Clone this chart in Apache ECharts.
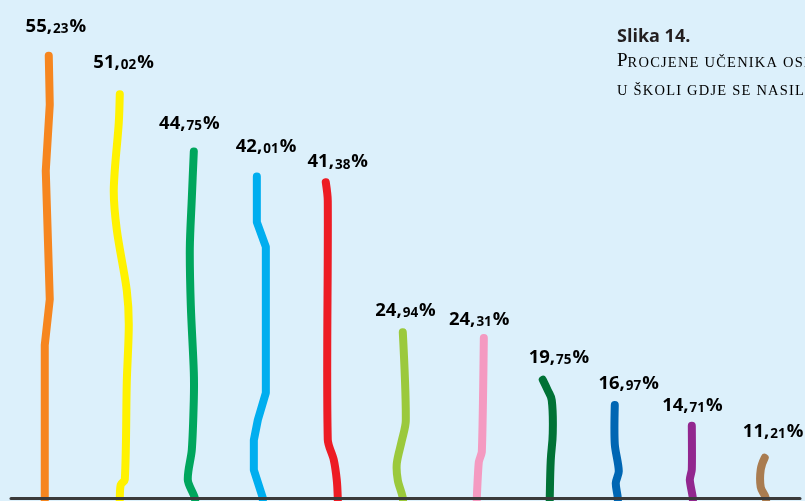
<!DOCTYPE html>
<html><head><meta charset="utf-8">
<script src="https://cdn.jsdelivr.net/npm/echarts@6/dist/echarts.min.js"></script>
<style>html,body{margin:0;padding:0;background:#dcf0fb;}#c{width:805px;height:501px;}</style>
</head><body><div id="c"></div>
<script>
// ---- data ----
const categories = ['1','2','3','4','5','6','7','8','9','10','11'];
const values = [55.23, 51.02, 44.75, 42.01, 41.38, 24.94, 24.31, 19.75, 16.97, 14.71, 11.21];
const titleText = 'Slika 14.';
const subtitleLine1 = 'Procjene učenika osnovnih škola o mjestima';
const subtitleLine2 = 'u školi gdje se nasilje najčešće događa';

// ---- styles ----
const Y_MIN = 6.8, Y_MAX = 61.0;
const colors = ['#f6861f','#fff200','#00a65d','#00aeef','#ed1c24','#9bc93c','#f49ac1','#007236','#0066b3','#92278f','#a97c50'];
// hand-drawn wiggle profile: [fraction of height from baseline, x offset px], top to bottom
const wiggles = [
  [[1,1.9],[0.889,2.9],[0.74,-1.1],[0.449,2.9],[0.346,-2.1],[0,-2.1]],
  [[1,1.2],[0.93,0.2],[0.765,-4.8],[0.664,-1.8],[0.514,8.2],[0.429,10.2],[0.288,8.2],[0.045,6.2],[0.033,2.2],[0,1.2]],
  [[1,3.5],[0.865,1.5],[0.72,-0.5],[0.555,0.5],[0.363,3.5],[0.284,3.5],[0.139,1.5],[0.052,-2.5],[0,4.5]],
  [[1,-5.2],[0.858,-5.2],[0.781,3.8],[0.327,3.8],[0.243,-4.2],[0.18,-8.2],[0.087,-8.2],[0,0.8]],
  [[1,-8],[0.941,-6],[0.185,-6],[0.121,0],[0.057,3],[0,4]],
  [[1,-2.7],[0.466,0.3],[0.346,-3.7],[0.209,-8.7],[0.107,-7.7],[0,-2.7]],
  [[1,6.6],[0.289,4.6],[0.225,1.6],[0,-0.4]],
  [[1,-6.2],[0.911,-1.2],[0.827,2.8],[0.549,3.8],[0.32,1.8],[0,0.8]],
  [[1,-5.9],[0.58,-5.9],[0.29,-1.9],[0.16,-4.9],[0,-2.9]],
  [[1,-0.6],[0.392,-0.6],[0.252,-2.6],[0,0.4]],
  [[1,0.6],[0.709,-3.4],[0.27,-3.4],[0,1.6]]
];
const smoothness = [0, 0.3, 0.3, 0, 0.3, 0.3, 0.2, 0.4, 0.3, 0.2, 0.4];
const labelOffsets = [[9,-30.5],[5,-32.5],[-1,-29.5],[4,-31.5],[4,-21.5],[0,-23.5],[2,-19.5],[10,-23.5],[8,-22.5],[0,-21.5],[9,-27.5]];

const HS = '\u200A';
function sp(s){ return s.split('').join(HS); }
function fmt(v){
  const s = v.toFixed(2).split('.');
  return '{a|' + s[0] + ',}{b|' + s[1] + '}{a|%}';
}
function caps(s){
  const up = s.toUpperCase();
  return '{big|' + up[0] + '}{sm|' + sp(up.slice(1)) + '}';
}
function smallcaps(s){
  return '{sm|' + sp(s.toUpperCase()) + '}';
}

const chart = echarts.init(document.getElementById('c'), null, {renderer:'canvas'});
const rich = {
  a: {fontFamily:'Open Sans', fontWeight:'bold', fontSize:18.5, color:'#2b2a29', verticalAlign:'bottom', lineHeight:22},
  b: {fontFamily:'Open Sans', fontWeight:'bold', fontSize:13.5, color:'#2b2a29', verticalAlign:'bottom', lineHeight:18, padding:[0,1,0,1]}
};
const pink = '#e5238b';
chart.setOption({
  backgroundColor:'#dcf0fb',
  animation:false,
  grid:{left:11, right:5, top:3, bottom:3},
  xAxis:{type:'category', data:categories, z:10,
    axisLine:{show:true, lineStyle:{color:'#3a3a3a', width:3}},
    axisTick:{show:false}, axisLabel:{show:false}, splitLine:{show:false}},
  yAxis:{type:'value', min:Y_MIN, max:Y_MAX, show:false, splitLine:{show:false}},
  graphic:[
    {type:'text', x:617, y:37, style:{text:titleText, font:'bold 18px "Open Sans"', fill:'#231f20', verticalAlign:'middle'}},
    {type:'text', x:617, y:61, style:{text:caps(subtitleLine1), verticalAlign:'middle',
      rich:{big:{fontFamily:'Liberation Serif', fontSize:19, color:pink, verticalAlign:'bottom', lineHeight:20},
            sm:{fontFamily:'Liberation Serif', fontSize:14.5, color:pink, verticalAlign:'bottom', lineHeight:18}}}},
    {type:'text', x:617, y:90, style:{text:smallcaps(subtitleLine2), verticalAlign:'middle',
      rich:{sm:{fontFamily:'Liberation Serif', fontSize:14.5, color:pink, verticalAlign:'bottom', lineHeight:18}}}}
  ],
  series:[{
    type:'custom',
    clip:false,
    data: values.map((v,i)=>[i, v]),
    renderItem:function(params, api){
      const i = params.dataIndex;
      const top = api.coord([i, api.value(1)]);
      const base = api.coord([i, Y_MIN]);
      const h = base[1] - top[1];
      const cx = top[0];
      const w = wiggles[i];
      const pts = w.map(p => [cx + p[1], base[1] - p[0]*h]);
      pts.push([cx + w[w.length-1][1], base[1] + 12]);
      return {type:'group', children:[
        {type:'polyline', shape:{points:pts, smooth:smoothness[i]},
         style:{stroke:colors[i], lineWidth:8, fill:null, lineCap:'round', lineJoin:'round'}},
        {type:'text', x:cx + labelOffsets[i][0], y:top[1] + labelOffsets[i][1],
         style:{text:fmt(api.value(1)), align:'center', verticalAlign:'middle', rich:rich}}
      ]};
    }
  }]
});
</script>
</body></html>
